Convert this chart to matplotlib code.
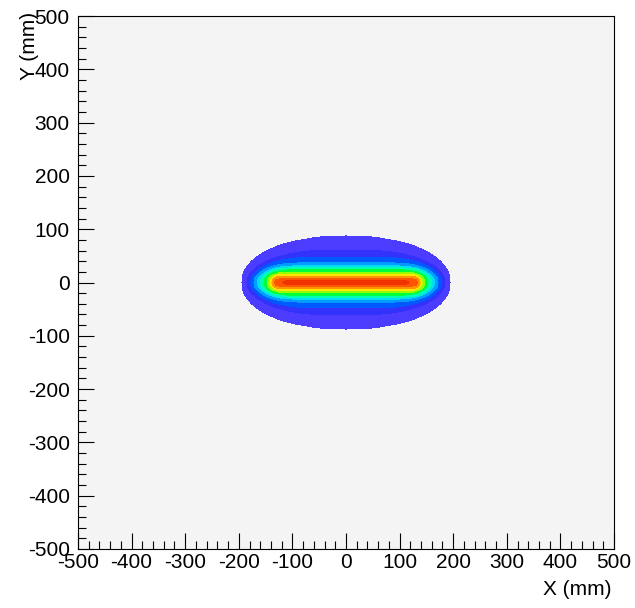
import matplotlib
matplotlib.use("Agg")
import matplotlib.pyplot as plt
import numpy as np
from matplotlib.ticker import MultipleLocator

plt.rcParams['font.family'] = ['Liberation Sans', 'DejaVu Sans']
plt.rcParams['axes.unicode_minus'] = False

# nested contour bands (outer edge of each band, mm)
# half extent along X, half extent along Y, half length of the flat part
band_half_x = [194, 185, 178, 172, 165, 160, 153, 147, 142, 138, 133, 118]
band_half_y = [87, 60, 47, 37, 31, 27, 23, 19, 15, 11, 7, 3]
band_flat = [0, 40, 70, 90, 100, 108, 112, 116, 120, 124, 124, 112]
band_power = [2.15, 2, 2, 2, 2, 2, 2, 2, 2, 2, 2, 2]
band_colors = ['#4c3cff', '#3232fa', '#0058ff', '#009cff', '#00dcf0', '#00ffb4',
               '#00ff3c', '#96ff00', '#ffe600', '#ff9600', '#ff5500', '#f03200']

xs = np.arange(-500, 501, 1.0)
ys = np.arange(-500, 501, 1.0)
X, Y = np.meshgrid(xs, ys)
Z = np.zeros_like(X)
for a, b, flat, p in zip(band_half_x, band_half_y, band_flat, band_power):
    dx = np.clip(np.abs(X) - flat, 0, None)
    rho = (dx / (a - flat)) ** p + (np.abs(Y) / b) ** p
    Z += (rho <= 1)

fig = plt.figure(figsize=(6.35, 6.08), dpi=100)
ax = fig.add_axes([78 / 635, 1 - 549 / 608, 536 / 635, 533 / 608])
ax.set_facecolor('#f4f4f4')

levels = np.arange(0.5, len(band_colors) + 1, 1.0)
ax.contourf(xs, ys, Z, levels=levels, colors=band_colors)

ax.set_xlim(-500, 500)
ax.set_ylim(-500, 500)
ax.xaxis.set_major_locator(MultipleLocator(100))
ax.xaxis.set_minor_locator(MultipleLocator(20))
ax.yaxis.set_major_locator(MultipleLocator(100))
ax.yaxis.set_minor_locator(MultipleLocator(20))
ax.tick_params(which='both', direction='in', top=False, right=False,
               labelsize=15, width=0.8, color='black')
ax.tick_params(axis='x', which='major', length=11.5, pad=3)
ax.tick_params(axis='y', which='major', length=11.5, pad=6)
ax.tick_params(which='minor', length=5.5)
for s in ax.spines.values():
    s.set_linewidth(0.8)

ax.set_xlabel('X (mm)', fontsize=15, loc='right')
ax.xaxis.set_label_coords(0.995, -0.058)
ax.set_ylabel('Y (mm)', fontsize=15, loc='top')
ax.yaxis.set_label_coords(-0.072, 1.008)

fig.savefig('out.png', dpi=100)
